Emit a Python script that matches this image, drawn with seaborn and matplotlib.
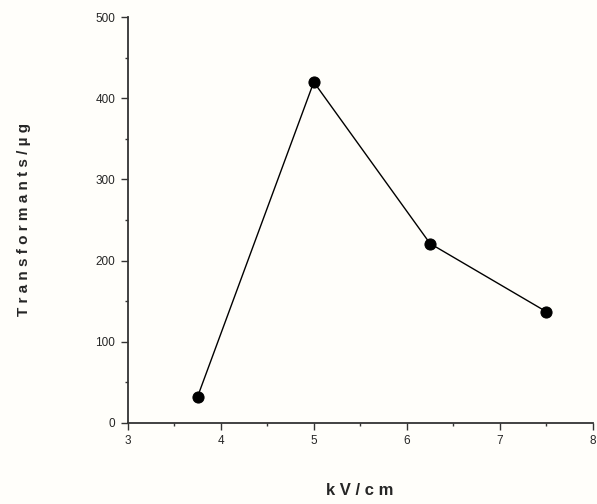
import numpy as np
import pandas as pd
import seaborn as sns
import matplotlib.pyplot as plt
from matplotlib.ticker import MultipleLocator

field = [3.75, 5.0, 6.25, 7.5]
transformants = [32, 420, 221, 137]

df = pd.DataFrame({'kv': field, 't': transformants})

sns.set_style('ticks')
plt.rcParams['font.family'] = ['Liberation Sans', 'DejaVu Sans']

fig = plt.figure(figsize=(5.97, 5.04), dpi=100)
fig.patch.set_facecolor('#fffefa')
ax = fig.add_axes([0.214, 0.161, 0.779, 0.805])
ax.set_facecolor('#fffefa')

sns.lineplot(x='kv', y='t', data=df, ax=ax, color='black', lw=1.0,
             marker='o', markersize=8, markeredgecolor='black',
             markerfacecolor='black')

ax.set_xlim(3, 8)
ax.set_ylim(0, 500)
ax.xaxis.set_major_locator(MultipleLocator(1))
ax.xaxis.set_minor_locator(MultipleLocator(0.5))
ax.yaxis.set_major_locator(MultipleLocator(100))
ax.yaxis.set_minor_locator(MultipleLocator(50))
ax.tick_params(which='major', direction='out', length=5, width=1, labelsize=8.5, color='#333333', pad=4)
ax.tick_params(which='minor', direction='out', length=2.5, width=1, color='#333333')
sns.despine(ax=ax)
for s in ['left', 'bottom']:
    ax.spines[s].set_linewidth(1.3)
    ax.spines[s].set_color('#333333')

ax.set_xlabel('k V / c m', fontsize=12, fontweight='bold')
ax.xaxis.set_label_coords(0.499, -0.148)
ax.set_ylabel('T r a n s f o r m a n t s / µ g', fontsize=11, fontweight='bold', labelpad=46)

plt.savefig('out.png', dpi=100, facecolor=fig.get_facecolor())
